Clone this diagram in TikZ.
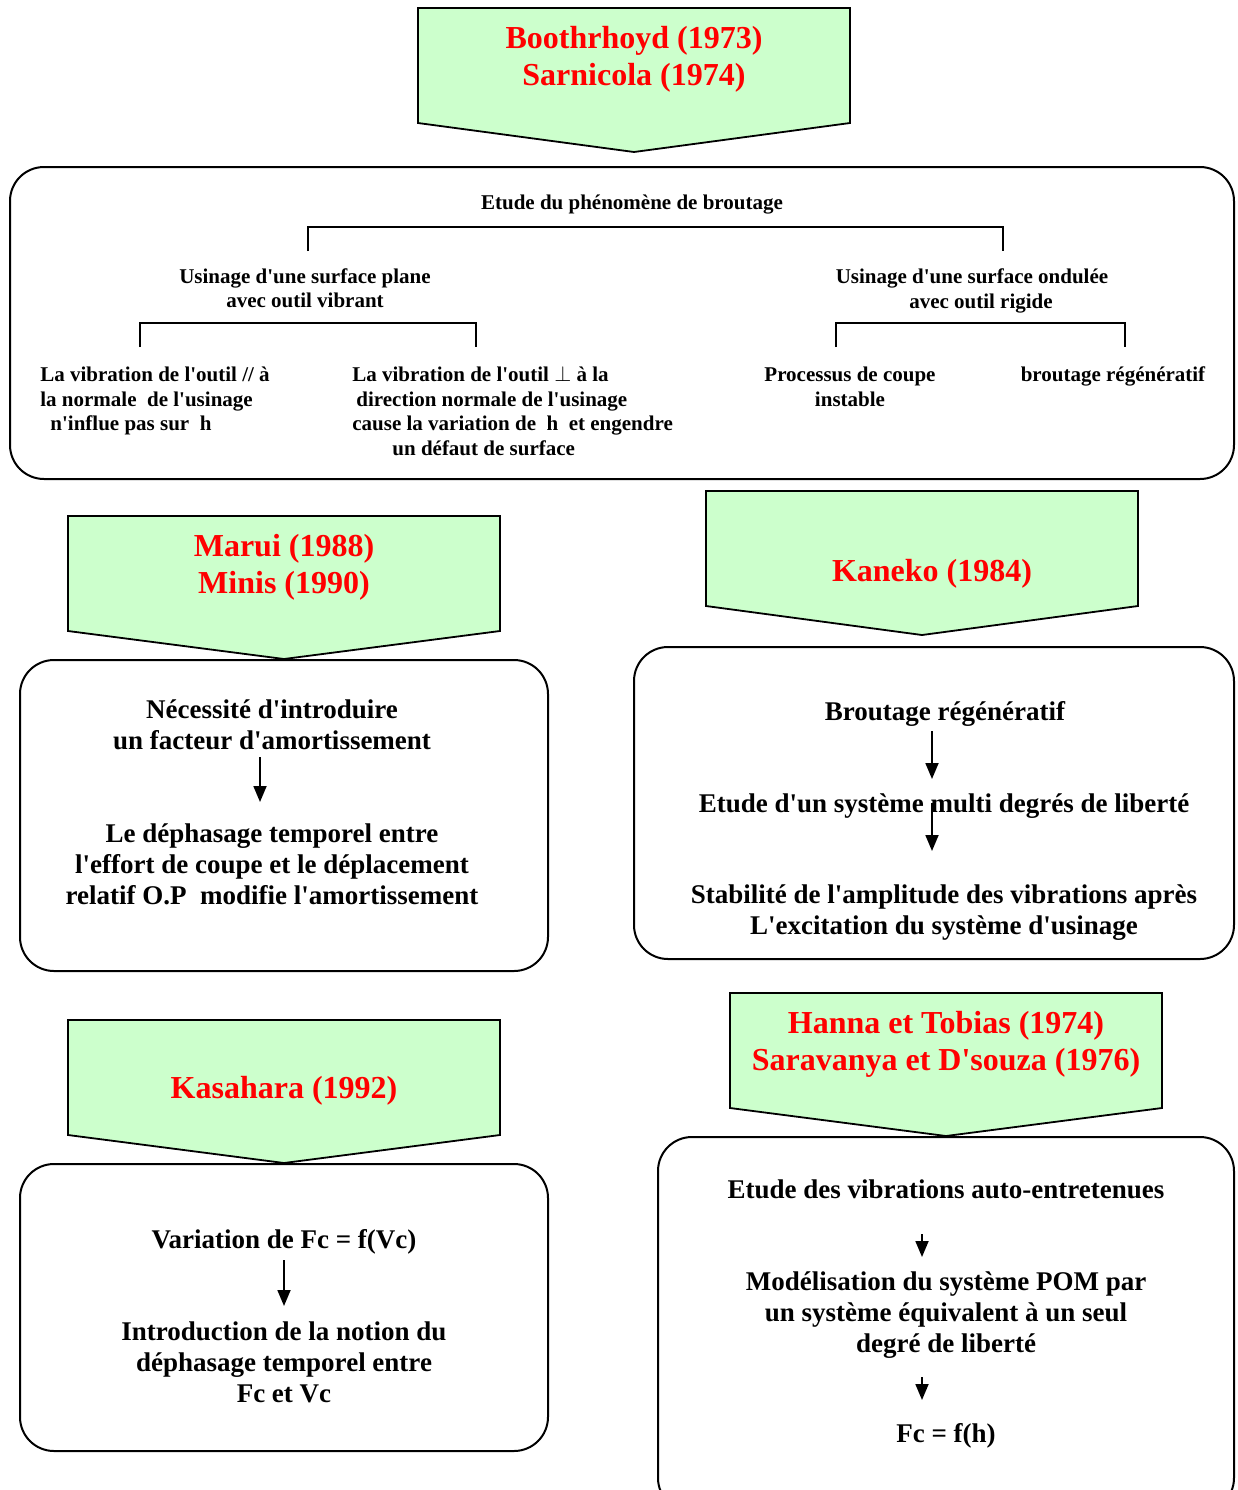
\documentclass[tikz,border=0pt]{standalone}
\usepackage{fontspec}
\setmainfont{Liberation Serif}[Ligatures=TeXOff]
\usetikzlibrary{arrows.meta}
\definecolor{bannergreen}{HTML}{CCFFCC}
\begin{document}
\begin{tikzpicture}[x=0.5pt,y=-0.5pt,
  banner/.style={draw=black, fill=bannergreen, line width=0.9pt, line join=miter},
  title/.style={text=red, font=\fontsize{16}{18.5}\selectfont\bfseries, align=center, inner sep=0pt},
  panel/.style={draw=black, line width=1pt, rounded corners=17pt},
  small/.style={font=\fontsize{10.5}{12.25}\selectfont\bfseries, align=center, inner sep=0pt},
  body/.style={font=\fontsize{13.5}{15.5}\selectfont\bfseries, align=center, inner sep=0pt},
  flow/.style={-{Triangle[length=8pt,width=6.5pt]}, line width=0.9pt},
  tree/.style={line width=0.9pt}
]
\useasboundingbox (0,0) rectangle (1238,1490);

% ---- banners ----
\draw[banner] (418,8) -- (850,8) -- (850,123) -- (634,152) -- (418,123) -- cycle;
\node[title] (boothroyd) at (634,59) {Boothrhoyd (1973)\\Sarnicola (1974)};

\draw[banner] (68,516) -- (500,516) -- (500,631) -- (284,659) -- (68,631) -- cycle;
\node[title] (marui) at (284,567) {Marui (1988)\\Minis (1990)};

\draw[banner] (706,491) -- (1138,491) -- (1138,606) -- (922,635) -- (706,606) -- cycle;
\node[title] (kaneko) at (932,574) {Kaneko (1984)};

\draw[banner] (68,1020) -- (500,1020) -- (500,1135) -- (284,1163) -- (68,1135) -- cycle;
\node[title] (kasahara) at (284,1091) {Kasahara (1992)};

\draw[banner] (730,993) -- (1162,993) -- (1162,1108) -- (946,1136) -- (730,1108) -- cycle;
\node[title] (hanna) at (946,1044) {Hanna et Tobias (1974)\\Saravanya et D'souza (1976)};

% ---- top panel: classification ----
\draw[panel] (10,167) rectangle (1234,479);
\node[small] (etude) at (632,205) {Etude du phénomène de broutage};
\node[small] (plane) at (305,288) {Usinage d'une surface plane\\avec outil vibrant};
\node[small] (ondulee) at (972,291) {Usinage d'une surface ondulée\\\hspace*{9pt}avec outil rigide};

\coordinate (ta) at (308,251); \coordinate (tb) at (1003,251); \coordinate (tl) at (0,227);
\draw[tree] (ta) |- (tl -| tb) -- (tb);
\coordinate (pa) at (140,347); \coordinate (pb) at (476,347); \coordinate (pl) at (0,323);
\draw[tree] (pa) |- (pl -| pb) -- (pb);
\coordinate (oa) at (836,347); \coordinate (ob) at (1125,347);
\draw[tree] (oa) |- (pl -| ob) -- (ob);

\node[small, align=left, anchor=west] (para) at (40,401)
  {La vibration de l'outil // à\\la normale\ \ de l'usinage\\\hspace{5pt}n'influe pas sur\ \ h};
\node[small, align=left, anchor=west] (perp) at (352,411)
  {La vibration de l'outil $\perp$ à la\\\hspace{2pt}direction normale de l'usinage\\cause la variation de\ \ h\ \ et engendre\\\hspace{20pt}un défaut de surface};
\node[small] (instable) at (850,387) {Processus de coupe\\instable};
\node[small] (regen) at (1113,376) {broutage régénératif};

% ---- Marui / Minis panel ----
\draw[panel] (20,660) rectangle (548,971);
\node[body] (amort) at (272,725) {Nécessité d'introduire\\un facteur d'amortissement};
\node[body] (dephas) at (272,864) {Le déphasage temporel entre\\l'effort de coupe et le déplacement\\relatif O.P\ \ modifie l'amortissement};
\coordinate (m1) at (260,757); \coordinate (m2) at (260,802);
\draw[flow] (m1) -- (m2);

% ---- Kaneko panel ----
\draw[panel] (634,647) rectangle (1234,959);
\node[body] (kbrout) at (945,714) {Broutage régénératif};
\node[body] (kmulti) at (944,806) {Etude d'un système multi degrés de liberté};
\node[body] (kstab) at (944,913) {Stabilité de l'amplitude des vibrations après\\L'excitation du système d'usinage};
\coordinate (k1) at (932,731); \coordinate (k2) at (932,779);
\coordinate (k3) at (932,803); \coordinate (k4) at (932,851);
\draw[flow] (k1) -- (k2);
\draw[flow] (k3) -- (k4);

% ---- Kasahara panel ----
\draw[panel] (20,1164) rectangle (548,1451);
\node[body] (fcvc) at (284,1242) {Variation de Fc = f(Vc)};
\node[body] (notion) at (284,1362) {Introduction de la notion du\\déphasage temporel entre\\Fc et Vc};
\coordinate (s1) at (284,1260); \coordinate (s2) at (284,1306);
\draw[flow] (s1) -- (s2);

% ---- Hanna / Saravanya panel ----
\draw[panel] (658,1137) rectangle (1234,1512);
\node[body] (auto) at (946,1189) {Etude des vibrations auto-entretenues};
\node[body] (pom) at (946,1315) {Modélisation du système POM par\\un système équivalent à un seul\\degré de liberté};
\node[body] (fch) at (946,1436) {Fc = f(h)};
\coordinate (h1) at (922,1234); \coordinate (h2) at (922,1257);
\coordinate (h3) at (922,1377); \coordinate (h4) at (922,1400);
\draw[flow] (h1) -- (h2);
\draw[flow] (h3) -- (h4);
\end{tikzpicture}
\end{document}
